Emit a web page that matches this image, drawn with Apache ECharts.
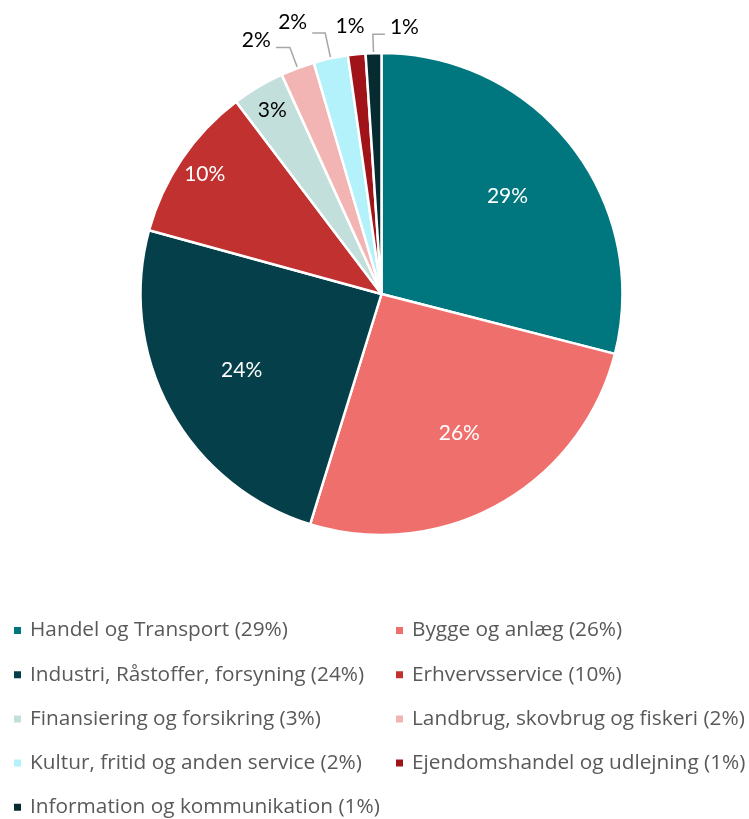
<!DOCTYPE html>
<html>
<head>
<meta charset="utf-8">
<script src="https://cdn.jsdelivr.net/npm/echarts@6/dist/echarts.min.js"></script>
<style>
	html, body { margin: 0; padding: 0; background: #fff; }
	#chart { width: 749px; height: 819px; }
</style>
</head>
<body>
<div id="chart"></div>
<script>
'use strict';
// brancher, andel (aflæst fra vinklerne i figuren)
var categories = [
	'Handel og Transport',
	'Bygge og anlæg',
	'Industri, Råstoffer, forsyning',
	'Erhvervsservice',
	'Finansiering og forsikring',
	'Landbrug, skovbrug og fiskeri',
	'Kultur, fritid og anden service',
	'Ejendomshandel og udlejning',
	'Information og kommunikation'
];
var shares = [28.9, 25.7, 24.4, 10.4, 3.5, 2.25, 2.3, 1.17, 1.05];
var pctText = ['29%', '26%', '24%', '10%', '3%', '2%', '2%', '1%', '1%'];
var colors = ['#00777F', '#EF6F6C', '#053F4A', '#C0312F', '#C3DFDB', '#F3B5B3', '#B3F2FA', '#A01318', '#062B30'];

var LABEL_FONT = 'Lato';
var LEGEND_FONT = 'Open Sans';
var CENTER = [381.5, 294];
var R = 241;

var chart = echarts.init(document.getElementById('chart'));

function pieData(hidden) {
	return categories.map(function (c, i) {
		return {
			name: c,
			value: shares[i],
			itemStyle: { color: hidden ? 'rgba(0,0,0,0)' : colors[i] }
		};
	});
}

// udvendige labels for de små skiver
var lineLen = { 5: [22, 14], 6: [26, 13], 7: [26, 0], 8: [19, 12] };
var mainData = pieData(false).map(function (d, i) {
	if (lineLen[i]) {
		d.label = { show: true };
		d.labelLine = { show: i !== 7, length: lineLen[i][0], length2: lineLen[i][1] };
	}
	return d;
});
var innerLabels = pieData(true).map(function (d, i) {
	d.label = { show: i <= 2, color: '#fff' };
	return d;
});
var outerLabels = pieData(true).map(function (d, i) {
	d.label = { show: i === 3 || i === 4, color: i === 3 ? '#fff' : '#000' };
	return d;
});

function pctFormatter(p) {
	return pctText[p.dataIndex];
}

// løft teksten lidt over linjen; sidste skive får linjen mod højre
function smallLabelLayout(p) {
	var pts = p.labelLinePoints;
	var r = p.labelRect;
	var i = p.dataIndex;
	if (!pts) {
		return {};
	}
	if (i === 8) {
		var mid = pts[1][0];
		return {
			dx: 2 * mid - (r.x + r.width) - r.x,
			dy: -7,
			labelLinePoints: [pts[0], pts[1], [2 * mid - pts[2][0], pts[2][1]]]
		};
	}
	if (i === 7) {
		return { dx: pts[2][0] - 4 - (r.x + r.width / 2), dy: -2, labelLinePoints: pts };
	}
	return { dy: i === 6 ? -11 : -7, labelLinePoints: pts };
}

function legendFor(idx, left) {
	return {
		orient: 'vertical',
		left: left,
		top: 620,
		height: 230,
		padding: 0,
		itemGap: 23.2,
		itemWidth: 9,
		itemHeight: 9,
		icon: 'rect',
		selectedMode: false,
		data: idx.map(function (i) { return categories[i]; }),
		formatter: function (name) {
			return name + ' (' + pctText[categories.indexOf(name)] + ')';
		},
		textStyle: {
			fontFamily: LEGEND_FONT,
			fontSize: 20.8,
			color: '#595959',
			lineHeight: 20,
			padding: [0, 0, 0, 3]
		}
	};
}

chart.setOption({
	animation: false,
	legend: [
		legendFor([0, 2, 4, 6, 8], 12),
		legendFor([1, 3, 5, 7], 394)
	],
	series: [
		{
			type: 'pie',
			center: CENTER,
			radius: R,
			startAngle: 90,
			clockwise: true,
			avoidLabelOverlap: false,
			silent: true,
			itemStyle: { borderColor: '#fff', borderWidth: 2.5 },
			label: {
				show: false,
				position: 'outside',
				formatter: pctFormatter,
				fontFamily: LABEL_FONT,
				fontSize: 21,
				color: '#000'
			},
			labelLine: {
				lineStyle: { color: '#A6A6A6', width: 1.5 }
			},
			labelLayout: smallLabelLayout,
			data: mainData
		},
		{
			type: 'pie',
			center: CENTER,
			radius: [72, R],
			startAngle: 90,
			silent: true,
			label: {
				position: 'inside',
				formatter: pctFormatter,
				fontFamily: LABEL_FONT,
				fontSize: 21
			},
			labelLine: { show: false },
			data: innerLabels
		},
		{
			type: 'pie',
			center: CENTER,
			radius: [180, R],
			startAngle: 90,
			silent: true,
			label: {
				position: 'inside',
				formatter: pctFormatter,
				fontFamily: LABEL_FONT,
				fontSize: 21
			},
			labelLine: { show: false },
			data: outerLabels
		}
	]
});
</script>
</body>
</html>
